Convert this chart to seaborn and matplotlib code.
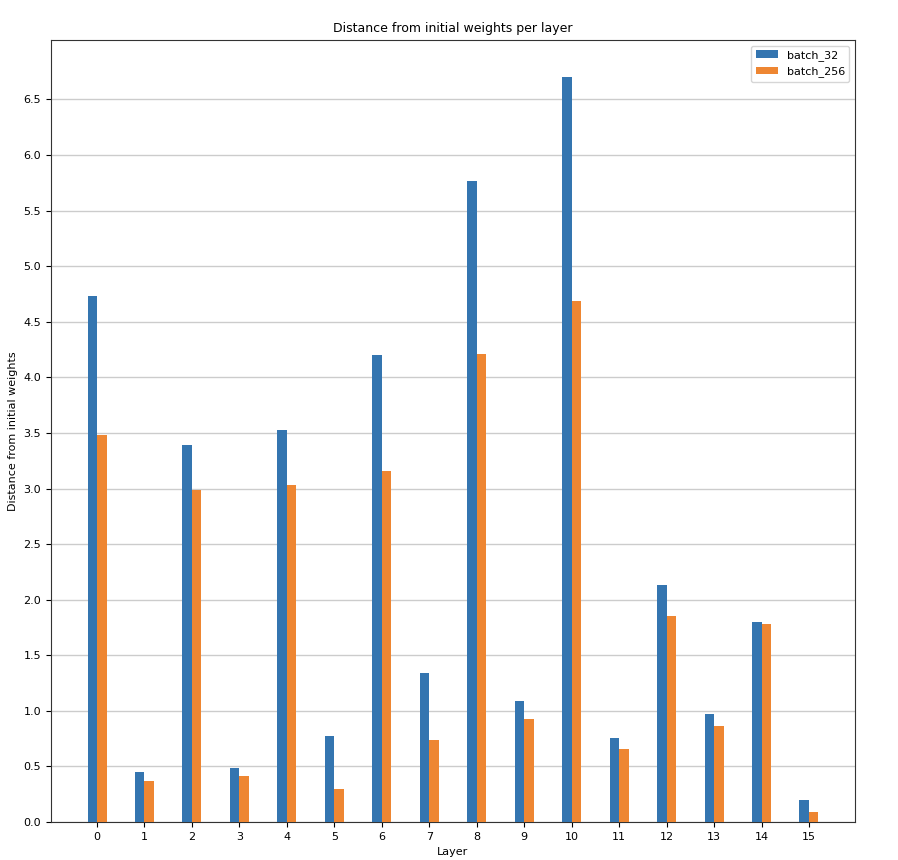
import matplotlib
matplotlib.use("Agg")
import matplotlib.pyplot as plt
import seaborn as sns
import pandas as pd

layers = list(range(16))
batch_32 = [4.73, 0.45, 3.39, 0.49, 3.53, 0.77, 4.20, 1.34, 5.77, 1.09, 6.70, 0.76, 2.13, 0.97, 1.80, 0.20]
batch_256 = [3.48, 0.37, 2.99, 0.41, 3.03, 0.30, 3.16, 0.74, 4.21, 0.93, 4.69, 0.66, 1.85, 0.86, 1.78, 0.09]
series_names = ["batch_32", "batch_256"]

df = pd.DataFrame({
    "Layer": layers * 2,
    "value": batch_32 + batch_256,
    "series": [series_names[0]] * len(layers) + [series_names[1]] * len(layers),
})

plt.rcParams["font.family"] = ["DejaVu Sans"]
plt.rcParams["font.size"] = 8

fig = plt.figure(figsize=(8.98, 8.60), dpi=100)
ax = fig.add_axes([51 / 898, 1 - 822 / 860, (855 - 51) / 898, (822 - 40) / 860])

sns.barplot(data=df, x="Layer", y="value", hue="series", hue_order=series_names,
            palette=["#3475b0", "#ee8632"], width=0.4, saturation=1.0, ax=ax,
            errorbar=None, zorder=3)

ax.set_xlim(-0.97, 15.97)
ax.set_ylim(0, 7.035)
ax.set_yticks([i * 0.5 for i in range(14)])
ax.yaxis.grid(True, color="#cccccc", linewidth=1, zorder=0)
ax.xaxis.grid(False)
ax.set_axisbelow(True)
ax.set_title("Distance from initial weights per layer", fontsize=9)
ax.set_xlabel("Layer")
ax.set_ylabel("Distance from initial weights")
leg = ax.legend(loc="upper right", fontsize=8)
leg.set_title(None)
for s in ax.spines.values():
    s.set_color("#333333")

fig.savefig("out.png", dpi=100)
